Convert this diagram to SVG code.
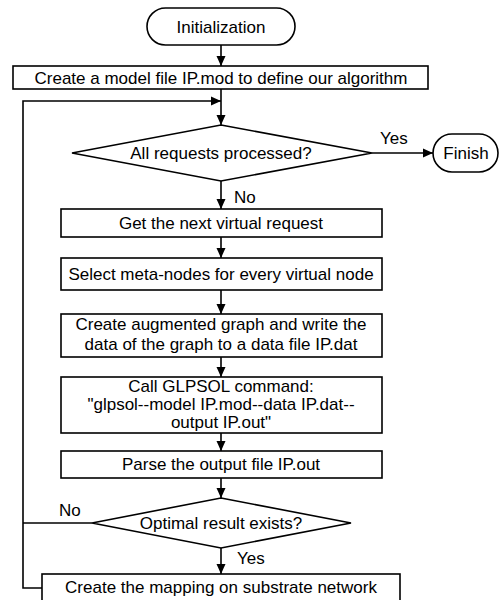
<svg xmlns="http://www.w3.org/2000/svg" width="500" height="600" viewBox="0 0 500 600">
  <style>
    .box { fill: #fff; stroke: #000; stroke-width: 1.6; }
    .t { font-family: "Liberation Sans", Arial, sans-serif; font-size: 17px; fill: #000; text-anchor: middle; }
    .lbl { font-family: "Liberation Sans", Arial, sans-serif; font-size: 17px; fill: #000; }
    .c { fill: none; stroke: #000; stroke-width: 1.6; }
  </style>
  <defs>
    <marker id="ah" markerUnits="userSpaceOnUse" markerWidth="10" markerHeight="10" refX="10" refY="5" orient="auto">
      <path d="M0,0.5 L10,5 L0,9.5 z" fill="#000"/>
    </marker>
  </defs>
  <rect width="500" height="600" fill="#fff"/>

  <g id="connectors">
    <line class="c" x1="221" y1="45" x2="221" y2="66" marker-end="url(#ah)"/>
    <line class="c" x1="221" y1="89" x2="221" y2="125" marker-end="url(#ah)"/>
    <polyline class="c" points="42,588 23,588 23,101 221,101" marker-end="url(#ah)"/>
    <line class="c" x1="92" y1="523" x2="23" y2="523"/>
    <line class="c" x1="372" y1="153" x2="433" y2="153" marker-end="url(#ah)"/>
    <line class="c" x1="221" y1="181" x2="221" y2="209" marker-end="url(#ah)"/>
    <line class="c" x1="221" y1="237" x2="221" y2="258" marker-end="url(#ah)"/>
    <line class="c" x1="221" y1="290" x2="221" y2="314" marker-end="url(#ah)"/>
    <line class="c" x1="221" y1="357" x2="221" y2="377" marker-end="url(#ah)"/>
    <line class="c" x1="221" y1="433" x2="221" y2="451" marker-end="url(#ah)"/>
    <line class="c" x1="221" y1="478" x2="221" y2="498" marker-end="url(#ah)"/>
    <line class="c" x1="221" y1="548" x2="221" y2="574" marker-end="url(#ah)"/>
    <text class="lbl" x="380" y="144">Yes</text>
    <text class="lbl" x="234" y="203">No</text>
    <text class="lbl" x="59" y="516">No</text>
    <text class="lbl" x="237" y="564">Yes</text>
  </g>

  <g id="init">
    <rect class="box" x="147" y="8" width="148" height="37" rx="18.5"/>
    <text class="t" x="221" y="33">Initialization</text>
  </g>
  <g id="model">
    <rect class="box" x="13" y="66" width="415" height="23"/>
    <text class="t" x="221" y="84">Create a model file IP.mod to define our algorithm</text>
  </g>
  <g id="all-processed">
    <polygon class="box" points="221,125 372,153 221,181 72,153"/>
    <text class="t" x="221" y="159">All requests processed?</text>
  </g>
  <g id="finish">
    <rect class="box" x="433" y="134" width="65" height="38" rx="19"/>
    <text class="t" x="466" y="159">Finish</text>
  </g>
  <g id="next-request">
    <rect class="box" x="61" y="209" width="321" height="28"/>
    <text class="t" x="221" y="229">Get the next virtual request</text>
  </g>
  <g id="meta-nodes">
    <rect class="box" x="61" y="258" width="321" height="32"/>
    <text class="t" x="221" y="280">Select meta-nodes for every virtual node</text>
  </g>
  <g id="augmented">
    <rect class="box" x="61" y="314" width="321" height="43"/>
    <text class="t" x="221" y="330">Create augmented graph and write the</text>
    <text class="t" x="221" y="350">data of the graph to a data file IP.dat</text>
  </g>
  <g id="glpsol">
    <rect class="box" x="61" y="377" width="321" height="56"/>
    <text class="t" x="221" y="392">Call GLPSOL command:</text>
    <text class="t" x="221" y="410">"glpsol--model IP.mod--data IP.dat--</text>
    <text class="t" x="221" y="428">output IP.out"</text>
  </g>
  <g id="parse">
    <rect class="box" x="61" y="451" width="321" height="27"/>
    <text class="t" x="221" y="470">Parse the output file IP.out</text>
  </g>
  <g id="optimal">
    <polygon class="box" points="221,498 351,523 221,548 92,523"/>
    <text class="t" x="221" y="529">Optimal result exists?</text>
  </g>
  <g id="mapping">
    <rect class="box" x="42" y="574" width="358" height="30"/>
    <text class="t" x="221" y="593">Create the mapping on substrate network</text>
  </g>
</svg>
